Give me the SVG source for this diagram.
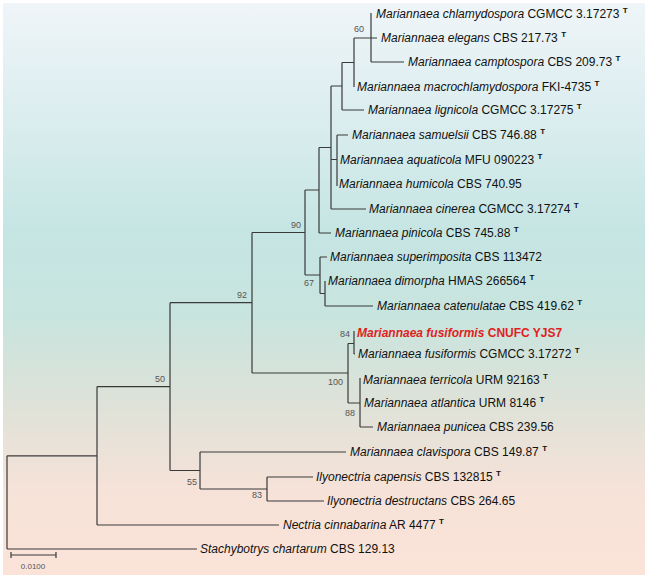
<svg xmlns="http://www.w3.org/2000/svg" width="648" height="578" viewBox="0 0 648 578">
<defs>
<linearGradient id="bg" x1="0" y1="0" x2="0" y2="1">
<stop offset="0" stop-color="#eff5f8"/>
<stop offset="0.2" stop-color="#dbedef"/>
<stop offset="0.4" stop-color="#c5e5e3"/>
<stop offset="0.55" stop-color="#c8e4de"/>
<stop offset="0.7" stop-color="#dee2d8"/>
<stop offset="0.85" stop-color="#f6e2d8"/>
<stop offset="1" stop-color="#fbe3d8"/>
</linearGradient>
</defs>
<style>
.br{fill:none;stroke:#3a3a3a;stroke-width:1.2}
.lf{font-family:"Liberation Sans",Arial,sans-serif;font-size:12px;fill:#111}
.sp{font-style:italic}
.t{font-size:8px;font-weight:bold}
.bs{font-family:"Liberation Sans",Arial,sans-serif;font-size:9px;fill:#555;text-anchor:end}
.red{fill:#e01e1e;font-weight:bold}
</style>
<rect x="3" y="3" width="642" height="572" fill="url(#bg)"/>
<g id="connectors" class="br">
<path d="M7 455.8V549M7 455.8H97M7 549H197"/>
<path d="M97 386.6V525M97 386.6H170M97 525H279"/>
<path d="M170 302.7V470.5M170 302.7H252M170 470.5H200"/>
<path d="M200 452V489M200 452H346M200 489H267"/>
<path d="M267 477V501M267 477H313M267 501H324"/>
<path d="M252 232.5V373M252 232.5H305M252 373H348"/>
<path d="M348 343.5V403M348 343.5H354M348 403H360"/>
<path d="M354 331V354M354 354H355"/>
<path d="M360 378V427M360 427H373"/>
<path d="M305 190V275M305 190H319M305 275H320"/>
<path d="M320 257V293.5M320 257H327M320 293.5H325"/>
<path d="M325 281V306M325 306H373"/>
<path d="M319 147.5V233M319 147.5H331M319 233H331"/>
<path d="M331 86V209M331 86H342M331 159.5H337M331 209H366"/>
<path d="M337 135V186M337 135H348"/>
<path d="M342 62.5V110M342 62.5H354M342 110H364"/>
<path d="M354 38V87M354 38H371"/>
<path d="M371 13V62M371 38H377M371 62H404"/>
</g>
<g id="bootstrap">
<g id="n60"><text class="bs" x="364" y="32">60</text></g>
<g id="n90"><text class="bs" x="301" y="228">90</text></g>
<g id="n92"><text class="bs" x="247" y="298">92</text></g>
<g id="n50"><text class="bs" x="165" y="382">50</text></g>
<g id="n67"><text class="bs" x="314" y="286">67</text></g>
<g id="n84"><text class="bs" x="350" y="337">84</text></g>
<g id="n100"><text class="bs" x="343" y="385">100</text></g>
<g id="n88"><text class="bs" x="355" y="416">88</text></g>
<g id="n55"><text class="bs" x="197" y="485">55</text></g>
<g id="n83"><text class="bs" x="262" y="498">83</text></g>
</g>
<g id="leaf1"><text class="lf" x="376" y="18"><tspan class="sp">Mariannaea chlamydospora</tspan> CGMCC 3.17273 <tspan class="t" dy="-5">T</tspan></text></g>
<g id="leaf2"><text class="lf" x="381" y="42"><tspan class="sp">Mariannaea elegans</tspan> CBS 217.73 <tspan class="t" dy="-5">T</tspan></text></g>
<g id="leaf3"><text class="lf" x="408" y="66"><tspan class="sp">Mariannaea camptospora</tspan> CBS 209.73 <tspan class="t" dy="-5">T</tspan></text></g>
<g id="leaf4"><text class="lf" x="357" y="91"><tspan class="sp">Mariannaea macrochlamydospora</tspan> FKI-4735 <tspan class="t" dy="-5">T</tspan></text></g>
<g id="leaf5"><text class="lf" x="368" y="114"><tspan class="sp">Mariannaea lignicola</tspan> CGMCC 3.17275 <tspan class="t" dy="-5">T</tspan></text></g>
<g id="leaf6"><text class="lf" x="352" y="139"><tspan class="sp">Mariannaea samuelsii</tspan> CBS 746.88 <tspan class="t" dy="-5">T</tspan></text></g>
<g id="leaf7"><text class="lf" x="340" y="164"><tspan class="sp">Mariannaea aquaticola</tspan> MFU 090223 <tspan class="t" dy="-5">T</tspan></text></g>
<g id="leaf8"><text class="lf" x="339" y="188"><tspan class="sp">Mariannaea humicola</tspan> CBS 740.95</text></g>
<g id="leaf9"><text class="lf" x="369" y="213"><tspan class="sp">Mariannaea cinerea</tspan> CGMCC 3.17274 <tspan class="t" dy="-5">T</tspan></text></g>
<g id="leaf10"><text class="lf" x="335" y="237"><tspan class="sp">Mariannaea pinicola</tspan> CBS 745.88 <tspan class="t" dy="-5">T</tspan></text></g>
<g id="leaf11"><text class="lf" x="330" y="261"><tspan class="sp">Mariannaea superimposita</tspan> CBS 113472</text></g>
<g id="leaf12"><text class="lf" x="328" y="285"><tspan class="sp">Mariannaea dimorpha</tspan> HMAS 266564 <tspan class="t" dy="-5">T</tspan></text></g>
<g id="leaf13"><text class="lf" x="377" y="310"><tspan class="sp">Mariannaea catenulatae</tspan> CBS 419.62 <tspan class="t" dy="-5">T</tspan></text></g>
<g id="leaf14"><text class="lf red" x="357" y="337"><tspan class="sp">Mariannaea fusiformis</tspan> CNUFC YJS7</text></g>
<g id="leaf15"><text class="lf" x="358" y="358"><tspan class="sp">Mariannaea fusiformis</tspan> CGMCC 3.17272 <tspan class="t" dy="-5">T</tspan></text></g>
<g id="leaf16"><text class="lf" x="363" y="384"><tspan class="sp">Mariannaea terricola</tspan> URM 92163 <tspan class="t" dy="-5">T</tspan></text></g>
<g id="leaf17"><text class="lf" x="364" y="407"><tspan class="sp">Mariannaea atlantica</tspan> URM 8146 <tspan class="t" dy="-5">T</tspan></text></g>
<g id="leaf18"><text class="lf" x="377" y="431"><tspan class="sp">Mariannaea punicea</tspan> CBS 239.56</text></g>
<g id="leaf19"><text class="lf" x="350" y="456"><tspan class="sp">Mariannaea clavispora</tspan> CBS 149.87 <tspan class="t" dy="-5">T</tspan></text></g>
<g id="leaf20"><text class="lf" x="316" y="481"><tspan class="sp">Ilyonectria capensis</tspan> CBS 132815 <tspan class="t" dy="-5">T</tspan></text></g>
<g id="leaf21"><text class="lf" x="327" y="505"><tspan class="sp">Ilyonectria destructans</tspan> CBS 264.65</text></g>
<g id="leaf22"><text class="lf" x="283" y="529"><tspan class="sp">Nectria cinnabarina</tspan> AR 4477 <tspan class="t" dy="-5">T</tspan></text></g>
<g id="leaf23"><text class="lf" x="200" y="553"><tspan class="sp">Stachybotrys chartarum</tspan> CBS 129.13</text></g>
<g id="scalebar">
<path class="br" d="M11 555H56M11 552V558M56 552V558"/>
<text x="33" y="569" font-family="Liberation Sans, Arial, sans-serif" font-size="8" fill="#555" text-anchor="middle">0.0100</text>
</g>
</svg>
